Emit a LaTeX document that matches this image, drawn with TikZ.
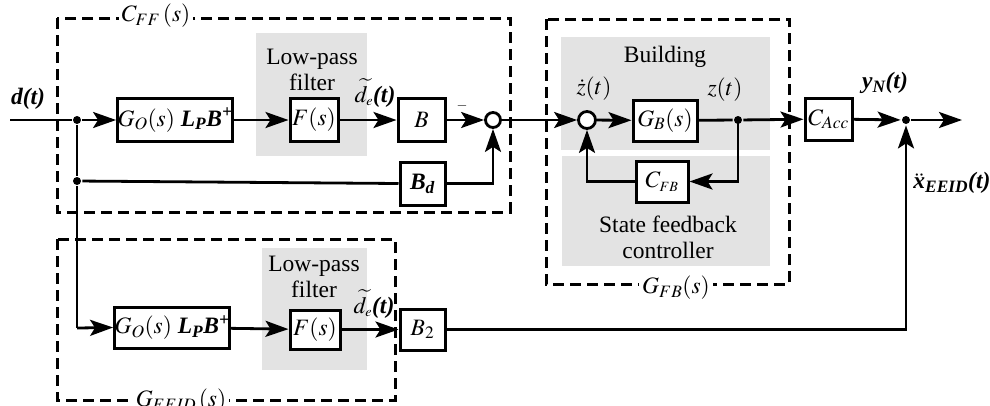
\documentclass[tikz,border=0pt]{standalone}
\usepackage{mathptmx}
\usepackage{fontspec}
\setmainfont{Liberation Serif}
\newfontfamily\tnr{Liberation Serif}
\usetikzlibrary{arrows.meta}
\begin{document}
\begin{tikzpicture}[x=1pt,y=-1pt, font=\tnr\fontsize{23.5}{26}\selectfont,
 line width=2.8pt,
 >={Stealth[length=23pt,width=16pt,inset=5pt]},
 blk/.style={draw,line width=3pt,fill=white,inner sep=0pt},
 dashbox/.style={draw,line width=3pt,dash pattern=on 11pt off 6pt},
 sumc/.style={circle,draw,line width=2.8pt,fill=white,minimum size=15pt,inner sep=0pt},
 jdot/.style={circle,fill=black,minimum size=8pt,inner sep=0pt},
 lbl/.style={inner sep=1pt},
 onedge/.style={fill=white,inner sep=3pt}]
\useasboundingbox (0,0) rectangle (990,405);

% gray zones
\fill[black!11] (256,33) rectangle (367,156);
\fill[black!11] (561,37) rectangle (770,150);
\fill[black!11] (562,156) rectangle (770,266);
\fill[black!11] (262,248) rectangle (367,370);

% dashed boxes
\draw[dashbox] (57,18) rectangle (510,212);
\draw[dashbox] (546,19) rectangle (789,284);
\draw[dashbox] (57,239) rectangle (395,400);

% upper path blocks
\node[blk,minimum width=114pt,minimum height=43pt] (go1) at (175,120) {$G_O(s)$ \textbf{\textit{L\textsubscript{P}B\textsuperscript{+}}}};
\node[blk,minimum width=48pt,minimum height=43pt] (f1) at (314,120) {$F(s)$};
\node[blk,minimum width=47pt,minimum height=43pt] (b1) at (421.5,120) {$B$};
\node[sumc] (sum1) at (493,120) {};
\node[blk,minimum width=45pt,minimum height=43pt] (bd) at (422.5,183.5) {\textbf{\textit{B\textsubscript{d}}}};

% feedback part
\node[sumc,minimum size=17pt] (sum2) at (587,120) {};
\node[blk,minimum width=64pt,minimum height=41pt] (gb) at (665,120.5) {$G_B(s)$};
\node[jdot] (dz) at (738,120) {};
\node[blk,minimum width=52pt,minimum height=41pt] (cfb) at (662,181.5) {$C_{\scriptscriptstyle FB}$};
\node[blk,minimum width=47pt,minimum height=42pt] (cacc) at (828.5,119) {$C_{Acc}$};
\node[jdot] (dout) at (906,120) {};
\coordinate (outend) at (962,120);

% lower path blocks
\node[blk,minimum width=114pt,minimum height=41pt] (go2) at (172,327.5) {$G_O(s)$ \textbf{\textit{L\textsubscript{P}B\textsuperscript{+}}}};
\node[blk,minimum width=50pt,minimum height=39pt] (f2) at (315,329.5) {$F(s)$};
\node[blk,minimum width=45pt,minimum height=41pt] (b2) at (422.5,329.5) {$B_2$};

% junctions
\coordinate (in) at (10,120);
\node[jdot] (j1) at (77,120) {};
\node[jdot] (j2) at (77,181) {};
\coordinate (j3) at (77,328);

% connectors
\draw (in) -- (j1);
\draw[->] (j1) -- (go1.west);
\draw[->] (go1) -- (f1);
\draw[->] (f1) -- (b1);
\draw[->] (b1) -- (sum1);
\draw (j1) -- (j2);
\draw (j2) -- (bd.west);
\draw[->] (bd.east) -| (sum1.south);
\draw[->] (sum1) -- (sum2);
\draw[->] (sum2) -- (gb);
\draw (gb) -- (dz);
\draw[->] (dz) -- (cacc);
\draw[->] (dz.center) |- (cfb.east);
\draw[->] (cfb.west) -| (sum2.south);
\draw[->] (cacc) -- (dout);
\draw[->] (dout) -- (outend);
\draw (j2) -- (j3);
\draw[->] (j3) -- (go2.west);
\draw[->] (go2) -- (f2);
\draw[->] (f2) -- (b2);
\draw[->] (b2.east) -| (dout.south);

% labels
\node[onedge] (lcff) at (156,16) {$C_{FF}\,(s)$};
\node[lbl] (ld) at (28,99) {\textbf{\textit{d(t)}}};
\node[lbl,align=center] (lp1) at (312,70) {Low-pass\\filter};
\node[lbl] (lde1) at (375,93) {$\widetilde{d}_{\scriptscriptstyle e}$\textbf{\textit{(t)}}};
\node[lbl] (lminus) at (462,106) {\fontsize{14}{14}\selectfont $-$};
\node[lbl] (lbuild) at (665,57) {Building};
\node[lbl] (lzd) at (594,89) {$\dot z(t)$};
\node[lbl] (lz) at (725,90) {$z(t)$};
\node[lbl,align=center] (lsf) at (668,237) {State feedback\\controller};
\node[onedge] (lgfb) at (676,288) {$G_{FB}(s)$};
\node[lbl] (lyn) at (885,83) {\textbf{\textit{y\textsubscript{N}(t)}}};
\node[lbl,anchor=west] (lx) at (911,183) {$\ddot{\mbox{\textbf{\textit{x}}}}$\textbf{\textit{\textsubscript{EEID}(t)}}};
\node[lbl,align=center] (lp2) at (314,277) {Low-pass\\filter};
\node[lbl] (lde2) at (374,304) {$\widetilde{d}_{\scriptscriptstyle e}$\textbf{\textit{(t)}}};
\node[onedge] (lgeeid) at (181,401) {$G_{EEID}\,(s)$};
\end{tikzpicture}
\end{document}
